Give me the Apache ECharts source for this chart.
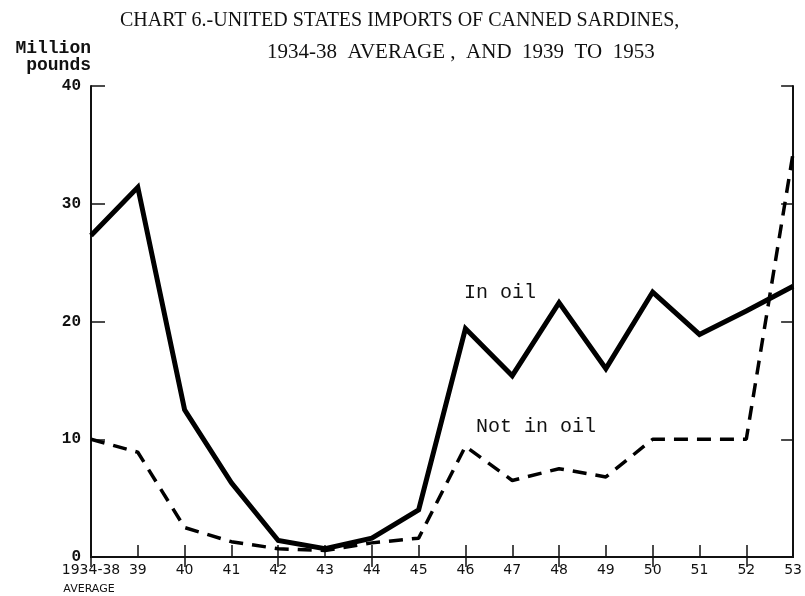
<!DOCTYPE html>
<html>
<head>
<meta charset="utf-8">
<style>
  html, body { margin: 0; padding: 0; background: #fff; }
  #chart { width: 805px; height: 596px; }
</style>
<script src="https://cdn.jsdelivr.net/npm/echarts@6/dist/echarts.min.js"></script>
</head>
<body>
<div id="chart"></div>
<script>
// categories (years)
var years = ["1934-38", "39", "40", "41", "42", "43", "44", "45", "46", "47", "48", "49", "50", "51", "52", "53"];
// million pounds
var inOil = [27.3, 31.4, 12.5, 6.3, 1.4, 0.7, 1.6, 4.0, 19.4, 15.4, 21.6, 16.0, 22.5, 18.9, 20.9, 23.0];
var notInOil = [10.0, 8.9, 2.5, 1.3, 0.7, 0.55, 1.2, 1.6, 9.4, 6.5, 7.5, 6.8, 10.0, 10.0, 10.0, 34.3];
var yTicks = [0, 10, 20, 30, 40];

var chart = echarts.init(document.getElementById("chart"));

var titleStyle = {
  fontFamily: "Liberation Serif",
  fontSize: 20,
  fontWeight: "normal",
  color: "#111"
};

chart.setOption({
  backgroundColor: "#fff",
  animation: false,
  title: [
    {
      text: "CHART 6.-UNITED STATES IMPORTS OF CANNED SARDINES,",
      left: 115,
      top: 6,
      textStyle: titleStyle
    },
    {
      text: "1934-38  AVERAGE ,  AND  1939  TO  1953",
      left: 262,
      top: 37,
      textStyle: Object.assign({}, titleStyle, { fontSize: 21 })
    }
  ],
  grid: {
    left: 91,
    right: 8,
    top: 86,
    bottom: 39
  },
  xAxis: [
    {
      type: "category",
      data: years,
      boundaryGap: false,
      position: "bottom",
      axisLine: { lineStyle: { color: "#111", width: 2 } },
      axisTick: { inside: true, length: 12, lineStyle: { color: "#111", width: 1.5 } },
      axisLabel: {
        margin: 6,
        interval: 0,
        color: "#111",
        fontFamily: "DejaVu Sans",
        fontSize: 14,
        formatter: function (v) {
          return v === "1934-38" ? "{a|1934-38}\n{b|AVERAGE}" : v;
        },
        rich: {
          a: { fontFamily: "DejaVu Sans", fontSize: 14, color: "#111" },
          b: { fontFamily: "DejaVu Sans", fontSize: 11, color: "#111", padding: [7, 4, 0, 0] }
        }
      }
    },
    {
      type: "category",
      data: years,
      boundaryGap: false,
      position: "top",
      axisLine: { lineStyle: { color: "#111", width: 2 } },
      axisTick: { inside: true, length: 10, lineStyle: { color: "#111", width: 1.5 } },
      axisLabel: { show: false }
    }
  ],
  yAxis: [
    {
      type: "value",
      name: "Million\npounds",
      nameLocation: "end",
      nameGap: 12,
      nameTextStyle: {
        fontFamily: "Liberation Mono",
        fontSize: 18,
        fontWeight: "bold",
        color: "#111",
        align: "right",
        lineHeight: 17
      },
      min: yTicks[0],
      max: yTicks[yTicks.length - 1],
      interval: 10,
      axisLine: { show: true, lineStyle: { color: "#111", width: 2 } },
      axisTick: { show: true, inside: true, length: 14, lineStyle: { color: "#111", width: 1.5 } },
      splitLine: { show: false },
      axisLabel: {
        margin: 10,
        color: "#111",
        fontFamily: "Liberation Mono",
        fontWeight: "bold",
        fontSize: 16
      }
    },
    {
      type: "value",
      position: "right",
      min: yTicks[0],
      max: yTicks[yTicks.length - 1],
      interval: 10,
      axisLine: { show: true, lineStyle: { color: "#111", width: 2 } },
      axisTick: { show: true, inside: true, length: 12, lineStyle: { color: "#111", width: 1.5 } },
      splitLine: { show: false },
      axisLabel: { show: false }
    }
  ],
  graphic: [
    {
      type: "text",
      left: 464,
      top: 283,
      style: { text: "In oil", font: "20px 'Liberation Mono'", fill: "#111" }
    },
    {
      type: "text",
      left: 476,
      top: 417,
      style: { text: "Not in oil", font: "20px 'Liberation Mono'", fill: "#111" }
    }
  ],
  series: [
    {
      name: "In oil",
      type: "line",
      data: inOil,
      symbol: "none",
      lineStyle: { color: "#000", width: 5, type: "solid", join: "miter" }
    },
    {
      name: "Not in oil",
      type: "line",
      data: notInOil,
      symbol: "none",
      lineStyle: { color: "#000", width: 3.5, type: [14, 9] }
    }
  ]
});
</script>
</body>
</html>
